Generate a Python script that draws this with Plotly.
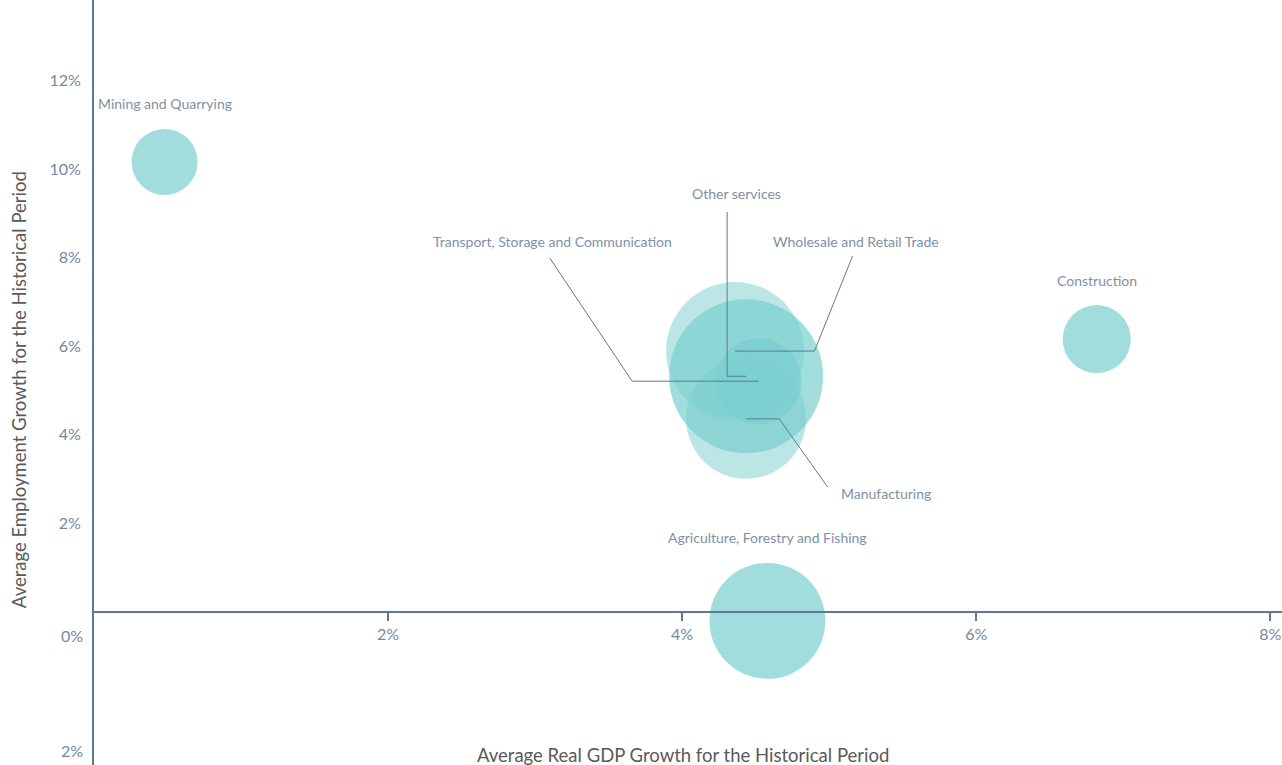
import plotly.graph_objects as go

# Sector data: average real GDP growth (%), average employment growth (%), relative weight
sectors = [
    "Mining and Quarrying",
    "Construction",
    "Agriculture, Forestry and Fishing",
    "Wholesale and Retail Trade",
    "Other services",
    "Manufacturing",
    "Transport, Storage and Communication",
]
gdp_growth = [0.48, 6.82, 4.58, 4.36, 4.435, 4.435, 4.52]
emp_growth = [10.16, 6.16, -0.20, 5.89, 5.32, 4.36, 5.21]
weight = [10.9, 11.6, 33.6, 47.6, 59.3, 36.0, 18.5]
fill_opacity = [0.7, 0.7, 0.7, 0.5, 0.7, 0.5, 0.7]

x_ticks = [2, 4, 6, 8]
x_tick_text = ["2%", "4%", "6%", "8%"]
y_ticks = [2, 4, 6, 8, 10, 12]
y_tick_text = ["2%", "4%", "6%", "8%", "10%", "12%"]
lower_tick_labels = [("0%", -0.54), ("2%", -3.12)]

# Leader lines: label anchor (x, y) and elbow x; the line ends at the bubble centre
leaders = {
    "Transport, Storage and Communication": dict(start=(3.10, 7.99), elbow_x=3.66, label_y=8.36),
    "Other services": dict(start=(4.306, 9.03), elbow_x=4.306, label_y=9.45),
    "Wholesale and Retail Trade": dict(start=(5.16, 8.04), elbow_x=4.90, label_y=8.36),
    "Manufacturing": dict(start=(4.99, 2.82), elbow_x=4.66, label_y=2.68),
}
label_x_override = {
    "Transport, Storage and Communication": 3.115,
    "Other services": 4.37,
    "Wholesale and Retail Trade": 5.18,
    "Manufacturing": 5.39,
}

X_RANGE = [0, 8.08]
Y_RANGE = [-3.454, 13.815]

BASE = "121,206,206"
AXIS_COLOR = "#5b7a93"
TICK_COLOR = "#6f8aa3"
LABEL_COLOR = "#7d91a6"
TITLE_COLOR = "#5a5a5a"
FONT = "Lato, 'Open Sans', sans-serif"
SIZE_SCALE = 400  # marker diameter (px) = sqrt(weight * SIZE_SCALE)

fig = go.Figure()

fig.add_trace(go.Scatter(
    x=gdp_growth,
    y=emp_growth,
    mode="markers",
    text=sectors,
    hoverinfo="text",
    marker=dict(
        size=weight,
        sizemode="area",
        sizeref=2 / SIZE_SCALE,
        opacity=1,
        color=[f"rgba({BASE},{o})" for o in fill_opacity],
        line=dict(width=0),
    ),
    showlegend=False,
))

# Leader lines for the crowded cluster
for name, spec in leaders.items():
    i = sectors.index(name)
    sx, sy = spec["start"]
    fig.add_trace(go.Scatter(
        x=[sx, spec["elbow_x"], gdp_growth[i]],
        y=[sy, emp_growth[i], emp_growth[i]],
        mode="lines",
        line=dict(color=AXIS_COLOR, width=1),
        hoverinfo="skip",
        showlegend=False,
    ))
    fig.add_annotation(
        x=label_x_override[name], y=spec["label_y"], xref="x", yref="y",
        text=name, showarrow=False,
        font=dict(family=FONT, size=14, color=LABEL_COLOR),
    )

# Labels placed directly above the isolated bubbles
for i, name in enumerate(sectors):
    if name in leaders:
        continue
    diameter = (weight[i] * SIZE_SCALE) ** 0.5
    fig.add_annotation(
        x=gdp_growth[i], y=emp_growth[i], xref="x", yref="y",
        text=name, showarrow=False, yshift=diameter / 2 + 25,
        font=dict(family=FONT, size=14, color=LABEL_COLOR),
    )

for text, yv in lower_tick_labels:
    fig.add_annotation(
        x=0, y=yv, xref="paper", yref="y", text=text, showarrow=False,
        xanchor="right", xshift=-9,
        font=dict(family=FONT, size=16, color=TICK_COLOR),
    )

# Axis titles
fig.add_annotation(
    x=0.5, y=0, xref="paper", yref="paper", yanchor="bottom", yshift=-3,
    text="Average Real GDP Growth for the Historical Period", showarrow=False,
    xshift=-5,
    font=dict(family=FONT, size=18.5, color=TITLE_COLOR),
)
fig.add_annotation(
    x=0, y=0.49, xref="paper", yref="paper", xshift=-88, textangle=-90,
    text="Average Employment Growth for the Historical Period", showarrow=False,
    font=dict(family=FONT, size=18.5, color=TITLE_COLOR),
)

zero_pos = (0 - Y_RANGE[0]) / (Y_RANGE[1] - Y_RANGE[0])

fig.update_layout(
    width=1282, height=765,
    margin=dict(l=94, r=0, t=0, b=0),
    paper_bgcolor="white", plot_bgcolor="white",
    font=dict(family=FONT),
    xaxis=dict(
        range=X_RANGE, tickvals=x_ticks, ticktext=x_tick_text,
        showgrid=False, zeroline=False,
        showline=True, linecolor=AXIS_COLOR, linewidth=2,
        anchor="free", position=zero_pos,
        ticks="outside", ticklen=8, tickwidth=2, tickcolor=AXIS_COLOR,
        tickfont=dict(family=FONT, size=16, color=TICK_COLOR),
    ),
    yaxis=dict(
        range=Y_RANGE, tickvals=y_ticks, ticktext=y_tick_text,
        showgrid=False, zeroline=False,
        showline=True, linecolor=AXIS_COLOR, linewidth=2,
        ticks="", ticklabelstandoff=8,
        tickfont=dict(family=FONT, size=16, color=TICK_COLOR),
    ),
)

fig.write_html("out.html")
